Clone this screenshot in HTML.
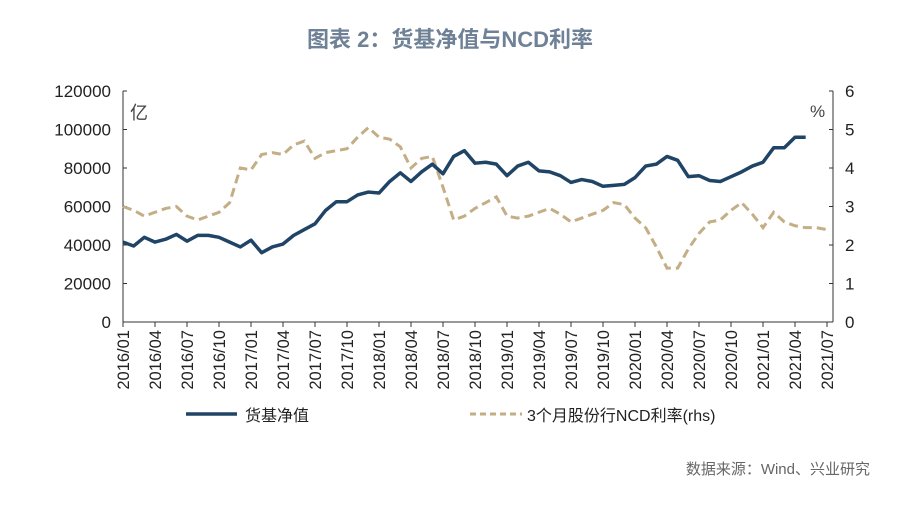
<!DOCTYPE html>
<html><head><meta charset="utf-8"><style>
body{margin:0;background:#fff;width:900px;height:519px;overflow:hidden;font-family:"Liberation Sans","Noto Sans CJK SC",sans-serif}
</style></head><body>
<svg width="900" height="519" xmlns="http://www.w3.org/2000/svg">
<text x="450" y="47" text-anchor="middle" font-size="22" font-weight="bold" fill="#6f8196" font-family="Liberation Sans, Noto Sans CJK SC, sans-serif">图表 2：货基净值与NCD利率</text>
<g id="axes"></g>
<g id="marks"></g>
<line x1="186" y1="414" x2="237" y2="414" stroke="#1f4466" stroke-width="3.5"/>
<text x="245" y="421" font-size="16" fill="#222" font-family="Liberation Sans, Noto Sans CJK SC, sans-serif">货基净值</text>
<line x1="470" y1="414" x2="522" y2="414" stroke="#c4ae85" stroke-width="3" stroke-dasharray="6,4"/>
<text x="527" y="421" font-size="16" fill="#222" font-family="Liberation Sans, Noto Sans CJK SC, sans-serif">3个月股份行NCD利率(rhs)</text>
<text x="870" y="474" text-anchor="end" font-size="15" fill="#666" font-family="Liberation Sans, Noto Sans CJK SC, sans-serif">数据来源：Wind、兴业研究</text>
<text x="130" y="119" font-size="18" fill="#444" font-family="Liberation Sans, Noto Sans CJK SC, sans-serif">亿</text>
<text x="810" y="117" font-size="17" fill="#444">%</text>
</svg>
<script>
const fundValues=[41.5,39.5,44,41.5,43,45.5,42,45,45,44,41.5,39,42.5,36,39,40.5,45,48,51,58,62.5,62.5,66,67.5,67,73,77.5,73,78,82,77,86,89,82.5,83,82,76,81,83,78.5,78,76,72.5,74,73,70.5,71,71.5,75,81,82,86,84,75.5,76,73.5,73,75.5,78,81,83,90.5,90.5,96,96].map(v=>v*1000);
const ncdValues=[3.0,2.9,2.75,2.85,2.95,3.0,2.75,2.65,2.75,2.85,3.1,4.0,3.95,4.35,4.4,4.35,4.6,4.7,4.25,4.4,4.45,4.5,4.8,5.05,4.8,4.75,4.55,4.0,4.25,4.3,3.5,2.65,2.75,2.95,3.1,3.25,2.75,2.7,2.75,2.85,2.95,2.8,2.6,2.7,2.8,2.9,3.1,3.05,2.7,2.45,1.95,1.4,1.4,1.9,2.3,2.6,2.65,2.9,3.1,2.8,2.45,2.85,2.6,2.5,2.45,2.45,2.4];
const leftTicks=[0,20000,40000,60000,80000,100000,120000];
const rightTicks=[0,1,2,3,4,5,6];
const xLabels=["2016/01","2016/04","2016/07","2016/10","2017/01","2017/04","2017/07","2017/10","2018/01","2018/04","2018/07","2018/10","2019/01","2019/04","2019/07","2019/10","2020/01","2020/04","2020/07","2020/10","2021/01","2021/04","2021/07"];
const NS="http://www.w3.org/2000/svg";
const X0=123,X1=833,Y0=322,Y1=91,NM=66;
const xs=i=>X0+i*(827-X0)/NM;
const yl=v=>Y0-(v/120000)*(Y0-Y1);
const yr=v=>Y0-(v/6)*(Y0-Y1);
const ax=document.getElementById('axes'),mk=document.getElementById('marks');
function mkEl(t,a,p){const e=document.createElementNS(NS,t);for(const k in a)e.setAttribute(k,a[k]);p.appendChild(e);return e;}
let e;
e=mkEl('line',{x1:X0,y1:Y1,x2:X0,y2:Y0,stroke:'#333','stroke-width':1},ax);


e=mkEl('line',{x1:X1,y1:Y1,x2:X1,y2:Y0,stroke:'#333','stroke-width':1},ax);


e=mkEl('line',{x1:X0,y1:Y0,x2:X1,y2:Y0,stroke:'#333','stroke-width':1},ax);


leftTicks.forEach(v=>{const y=yl(v);
 mkEl('line',{x1:X0,y1:y,x2:X0+4,y2:y,stroke:'#333'},ax);
 e=mkEl('text',{x:X0-12,y:y+6,'text-anchor':'end','font-size':17,fill:'#222'},ax);e.textContent=v;
 
 });
rightTicks.forEach(v=>{const y=yr(v);
 mkEl('line',{x1:X1-4,y1:y,x2:X1,y2:y,stroke:'#333'},ax);
 e=mkEl('text',{x:X1+12,y:y+6,'font-size':17,fill:'#222'},ax);e.textContent=v;
 
 });
xLabels.forEach((l,k)=>{const x=xs(k*3);
 mkEl('line',{x1:x,y1:Y0,x2:x,y2:Y0+5,stroke:'#333'},ax);
 e=mkEl('text',{x:0,y:0,'text-anchor':'end','font-size':16.5,fill:'#222',transform:`translate(${x+6},${Y0+8}) rotate(-90)`},ax);e.textContent=l;
 
 });
e=mkEl('polyline',{points:ncdValues.map((v,i)=>xs(i)+','+yr(v)).join(' '),fill:'none',stroke:'#c4ae85','stroke-width':3,'stroke-dasharray':'9,5'},mk);


e=mkEl('polyline',{points:fundValues.map((v,i)=>xs(i)+','+yl(v)).join(' '),fill:'none',stroke:'#1f4466','stroke-width':3.5,'stroke-linejoin':'round'},mk);


</script>
</body></html>
